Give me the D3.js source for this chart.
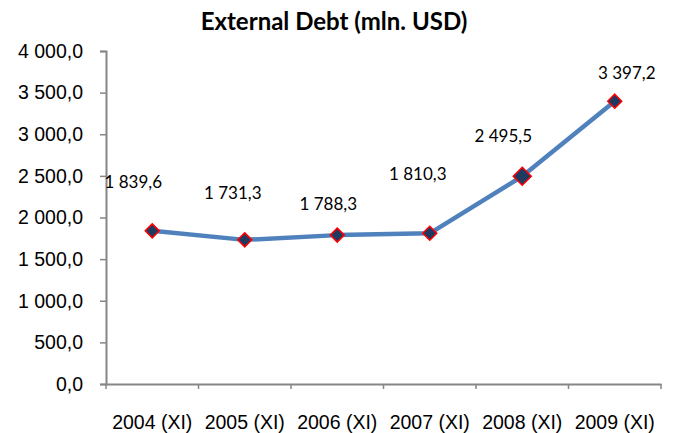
<!DOCTYPE html>
<html>
<head>
<meta charset="utf-8">
<script src="https://cdn.jsdelivr.net/npm/d3@7"></script>
<style>
  body { margin: 0; background: #ffffff; }
  svg { display: block; font-family: Lato, 'Open Sans', sans-serif; }
</style>
</head>
<body>
<div id="chart"></div>
<script>
const years = ['2004 (XI)', '2005 (XI)', '2006 (XI)', '2007 (XI)', '2008 (XI)', '2009 (XI)']
const debt = [1839.6, 1731.3, 1788.3, 1810.3, 2495.5, 3397.2]
const yTicks = [0, 500, 1000, 1500, 2000, 2500, 3000, 3500, 4000]

const width = 675
const height = 433
const margin = { top: 51, right: 14, bottom: 49, left: 106 }

const fmt = v => d3.format(',.1f')(v).replace(/,/g, ' ').replace('.', ',')

const svg = d3.select('#chart').append('svg')
  .attr('width', width)
  .attr('height', height)

const x = d3.scaleBand()
  .domain(years)
  .range([margin.left, width - margin.right])

const y = d3.scaleLinear()
  .domain([0, 4000])
  .range([height - margin.bottom, margin.top])

// title
svg.append('text')
  .attr('x', 334)
  .attr('y', 30)
  .attr('text-anchor', 'middle')
  .style('font-size', '24px')
  .style('font-weight', 'bold')
  .text('External Debt (mln. USD)')

// y axis
const yAxis = svg.append('g')
  .attr('transform', `translate(${margin.left},0)`)
  .call(d3.axisLeft(y).tickValues(yTicks).tickFormat(fmt).tickSize(6).tickPadding(17))
yAxis.selectAll('text').style('font-size', '19.5px').attr('fill', '#000')

// x axis
const xAxis = svg.append('g')
  .attr('transform', `translate(0,${y(0)})`)
  .call(d3.axisBottom(x).tickSize(0).tickPadding(31))
xAxis.selectAll('text').style('font-size', '19.5px').attr('fill', '#000')

// x ticks at category boundaries
svg.append('g').selectAll('line')
  .data(years.concat(['end']))
  .enter().append('line')
  .attr('x1', (d, i) => margin.left + i * x.step())
  .attr('x2', (d, i) => margin.left + i * x.step())
  .attr('y1', y(0))
  .attr('y2', y(0) + 5)
  .attr('stroke', '#868686')
  .attr('stroke-width', 1.5)

svg.selectAll('.domain, .tick line').attr('stroke', '#868686').attr('stroke-width', 1.5)
svg.selectAll('.domain').attr('stroke-width', 2)

const cx = d => x(d) + x.bandwidth() / 2

// line
const line = d3.line()
  .x((d, i) => cx(years[i]))
  .y(d => y(d))

svg.append('path')
  .datum(debt)
  .attr('d', line)
  .attr('fill', 'none')
  .attr('stroke', '#4F81BD')
  .attr('stroke-width', 4.5)
  .attr('stroke-linejoin', 'round')

// markers
svg.append('g').selectAll('path')
  .data(debt)
  .enter().append('path')
  .attr('transform', (d, i) => `translate(${cx(years[i])},${y(d)})`)
  .attr('d', (d, i) => {
    const r = i === 4 ? 9 : 7
    return `M0,${-r}L${r},0L0,${r}L${-r},0Z`
  })
  .attr('fill', '#1F3A60')
  .attr('stroke', '#FF0000')
  .attr('stroke-width', 1.5)

// data labels (moved by hand in the original)
const labelOffsets = [[-19, -49], [-12, -47], [-9, -31], [-12, -59], [-19, -40], [12, -28]]

svg.append('g').selectAll('text')
  .data(debt)
  .enter().append('text')
  .attr('x', (d, i) => cx(years[i]) + labelOffsets[i][0])
  .attr('y', (d, i) => y(d) + labelOffsets[i][1])
  .attr('dy', '0.35em')
  .attr('text-anchor', 'middle')
  .style('font-size', '17px')
  .text(d => fmt(d))
</script>
</body>
</html>
